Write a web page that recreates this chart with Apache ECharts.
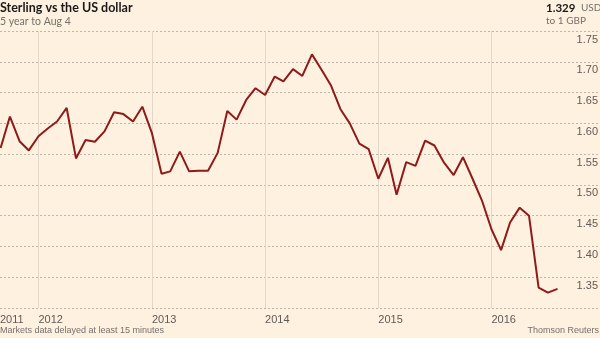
<!DOCTYPE html>
<html>
<head>
<meta charset="utf-8">
<script src="https://cdn.jsdelivr.net/npm/echarts@6/dist/echarts.min.js"></script>
<style>
html,body{margin:0;padding:0;background:#fff1e0;}
#chart{width:600px;height:338px;}
</style>
</head>
<body>
<div id="chart"></div>
<script>
// Monthly observations, Sep 2011 - Aug 2016
const months = [
  '2011-09-01','2011-10-01','2011-11-01','2011-12-01',
  '2012-01-01','2012-02-01','2012-03-01','2012-04-01','2012-05-01','2012-06-01',
  '2012-07-01','2012-08-01','2012-09-01','2012-10-01','2012-11-01','2012-12-01',
  '2013-01-01','2013-02-01','2013-03-01','2013-04-01','2013-05-01','2013-06-01',
  '2013-07-01','2013-08-01','2013-09-01','2013-10-01','2013-11-01','2013-12-01',
  '2014-01-01','2014-02-01','2014-03-01','2014-04-01','2014-05-01','2014-06-01',
  '2014-07-01','2014-08-01','2014-09-01','2014-10-01','2014-11-01','2014-12-01',
  '2015-01-01','2015-02-01','2015-03-01','2015-04-01','2015-05-01','2015-06-01',
  '2015-07-01','2015-08-01','2015-09-01','2015-10-01','2015-11-01','2015-12-01',
  '2016-01-01','2016-02-01','2016-03-01','2016-04-01','2016-05-01','2016-06-01',
  '2016-07-01','2016-08-01'
];
// USD per GBP
const usdPerGbp = [
  1.560, 1.611, 1.571, 1.556,
  1.579, 1.592, 1.603, 1.625, 1.543, 1.573, 1.570, 1.587, 1.618, 1.615, 1.603, 1.627,
  1.584, 1.518, 1.522, 1.554, 1.522, 1.523, 1.523, 1.552, 1.620, 1.606, 1.638, 1.657,
  1.646, 1.676, 1.668, 1.688, 1.677, 1.712, 1.688, 1.662, 1.623, 1.600, 1.567, 1.558,
  1.510, 1.544, 1.484, 1.537, 1.531, 1.572, 1.564, 1.536, 1.516, 1.545, 1.510, 1.475,
  1.428, 1.394, 1.439, 1.463, 1.450, 1.333, 1.325, 1.331
];
const yTicks = [1.30, 1.35, 1.40, 1.45, 1.50, 1.55, 1.60, 1.65, 1.70, 1.75];
const latestValue = '1.329';

const NARROW = 'Lato, Roboto, sans-serif';
const REG = '"Liberation Sans", Arial, sans-serif';
const GREY = '#74706b';
const YEAR_MS = 365.25 * 24 * 3600 * 1000;

const chart = echarts.init(document.getElementById('chart'), null, {renderer: 'canvas'});
chart.setOption({
  backgroundColor: '#fff1e0',
  animation: false,
  title: [
    {text: 'Sterling vs the US dollar', left: 0, top: 1, padding: 0,
     textStyle: {fontFamily: NARROW, fontWeight: 'bold', fontSize: 12.5, color: '#1a1a1a'}},
    {text: '5 year to Aug 4', left: 0, top: 16, padding: 0,
     textStyle: {fontFamily: NARROW, fontWeight: 'normal', fontSize: 10.5, color: GREY}},
    {text: latestValue, left: 546, top: 2, padding: 0,
     textStyle: {fontFamily: NARROW, fontWeight: 'bold', fontSize: 11.5, color: '#1a1a1a'}},
    {text: 'USD', left: 581, top: 3, padding: 0,
     textStyle: {fontFamily: NARROW, fontWeight: 'normal', fontSize: 10, color: GREY}},
    {text: 'to 1 GBP', left: 546, top: 16, padding: 0,
     textStyle: {fontFamily: NARROW, fontWeight: 'normal', fontSize: 10, color: GREY}},
    {text: 'Markets data delayed at least 15 minutes', left: 0, top: 326, padding: 0,
     textStyle: {fontFamily: REG, fontWeight: 'normal', fontSize: 9, color: GREY}},
    {text: 'Thomson Reuters', right: 1, top: 326, padding: 0,
     textStyle: {fontFamily: REG, fontWeight: 'normal', fontSize: 9, color: GREY}}
  ],
  grid: {left: 0, right: 0, top: 31, bottom: 30, containLabel: false, outerBoundsMode: 'none'},
  xAxis: {
    type: 'time',
    min: +new Date(2011, 7, 30),
    max: +new Date(2016, 11, 16),
    minInterval: YEAR_MS,
    maxInterval: YEAR_MS,
    axisLine: {show: false},
    axisTick: {show: false},
    splitLine: {show: true, showMinLine: false, showMaxLine: false,
                lineStyle: {color: '#e4d7c9', width: 1}},
    axisLabel: {
      show: true, showMinLabel: true, showMaxLabel: false,
      align: 'left', margin: 6,
      fontFamily: REG, fontSize: 11, color: '#5f5a55',
      formatter: v => String(new Date(v).getFullYear())
    }
  },
  yAxis: {
    type: 'value',
    position: 'right',
    min: yTicks[0], max: yTicks[yTicks.length - 1], interval: 0.05,
    axisLine: {show: false},
    axisTick: {show: false},
    splitLine: {show: true, lineStyle: {color: '#bfb5aa', width: 1, type: [2, 2]}},
    axisLabel: {
      inside: true, margin: 2, showMinLabel: false,
      verticalAlign: 'top', padding: [3, 0, 0, 0],
      fontFamily: REG, fontSize: 11, color: '#5f5a55',
      formatter: v => v.toFixed(2)
    }
  },
  series: [{
    type: 'line',
    data: months.map((m, i) => [m, usdPerGbp[i]]),
    showSymbol: false,
    symbol: 'none',
    lineStyle: {color: '#8e1a1a', width: 2},
    clip: true
  }]
});
</script>
</body>
</html>
